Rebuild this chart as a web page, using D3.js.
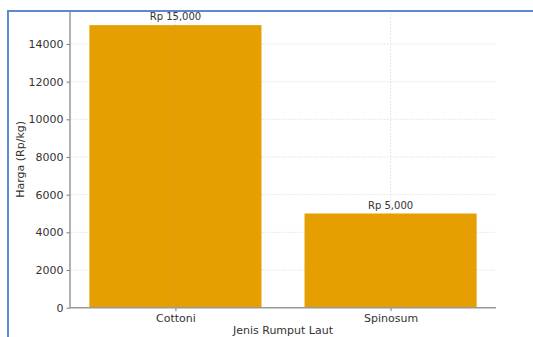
<!DOCTYPE html>
<html>
<head>
<meta charset="utf-8">
<script src="https://cdn.jsdelivr.net/npm/d3@7"></script>
<style>
  html, body { margin: 0; padding: 0; background: #fff; }
  svg { display: block; font-family: "DejaVu Sans", sans-serif; }
</style>
</head>
<body>
<svg id="chart" width="533" height="337"></svg>
<script>
// Seaweed prices per kilogram
const categories = ["Cottoni", "Spinosum"];
const prices = [15000, 5000];
const valueLabels = ["Rp 15,000", "Rp 5,000"];
const yTicks = [0, 2000, 4000, 6000, 8000, 10000, 12000, 14000];

const W = 533, H = 337;
const plot = { left: 70, right: 496, top: 11, bottom: 307.7 };
const barColor = "#E69F00";
const textColor = "#333";

const svg = d3.select("#chart");

// Linear category axis: bars centred on 0..n-1, width 0.8, 5% margins
const n = categories.length;
const xMin = -0.4, xMax = (n - 1) + 0.4;
const xPad = (xMax - xMin) * 0.05;
const x = d3.scaleLinear()
  .domain([xMin - xPad, xMax + xPad])
  .range([plot.left, plot.right]);

const yMax = d3.max(prices) * 1.05;
const y = d3.scaleLinear()
  .domain([0, yMax])
  .range([plot.bottom, plot.top]);

const g = svg.append("g");

// Grid lines (dotted)
g.append("g")
  .selectAll("line")
  .data(yTicks)
  .join("line")
  .attr("x1", plot.left).attr("x2", plot.right)
  .attr("y1", d => y(d)).attr("y2", d => y(d))
  .attr("stroke", "#dcdcdc")
  .attr("stroke-width", 0.8)
  .attr("stroke-dasharray", "1.6,1.6");

g.append("g")
  .selectAll("line")
  .data(categories)
  .join("line")
  .attr("x1", (d, i) => x(i)).attr("x2", (d, i) => x(i))
  .attr("y1", plot.top).attr("y2", plot.bottom)
  .attr("stroke", "#dcdcdc")
  .attr("stroke-width", 0.8)
  .attr("stroke-dasharray", "1.6,1.6");

// Bars
g.append("g")
  .selectAll("rect")
  .data(prices)
  .join("rect")
  .attr("x", (d, i) => x(i - 0.4))
  .attr("width", (d, i) => x(i + 0.4) - x(i - 0.4))
  .attr("y", d => y(d))
  .attr("height", d => y(0) - y(d))
  .attr("fill", barColor);

// Grid lines drawn faintly over bars as well
g.append("g")
  .selectAll("line")
  .data(categories)
  .join("line")
  .attr("x1", (d, i) => x(i)).attr("x2", (d, i) => x(i))
  .attr("y1", (d, i) => y(prices[i])).attr("y2", plot.bottom)
  .attr("stroke", "#d9a030")
  .attr("stroke-width", 0.6)
  .attr("opacity", 0.5);

// Value labels above bars
g.append("g")
  .selectAll("text")
  .data(prices)
  .join("text")
  .attr("x", (d, i) => x(i))
  .attr("y", d => y(d) - 5)
  .attr("text-anchor", "middle")
  .attr("font-size", 10)
  .attr("fill", textColor)
  .text((d, i) => valueLabels[i]);

// Y axis
const yAxis = d3.axisLeft(y).tickValues(yTicks).tickSize(3.5).tickPadding(3).tickFormat(d3.format("d"));
const yg = svg.append("g").attr("transform", `translate(${plot.left},0)`).call(yAxis);
yg.select(".domain").remove();
yg.selectAll(".tick line").attr("stroke", "#555").attr("stroke-width", 0.8);
yg.selectAll(".tick text").attr("font-size", 11).attr("fill", textColor).attr("font-family", "DejaVu Sans, sans-serif");

// X axis
const xAxis = d3.axisBottom(x).tickValues(d3.range(n)).tickSize(3.5).tickPadding(3).tickFormat(i => categories[i]);
const xg = svg.append("g").attr("transform", `translate(0,${plot.bottom})`).call(xAxis);
xg.select(".domain").remove();
xg.selectAll(".tick line").attr("stroke", "#555").attr("stroke-width", 0.8);
xg.selectAll(".tick text").attr("font-size", 11).attr("fill", textColor).attr("font-family", "DejaVu Sans, sans-serif");

// Spines: left and bottom
svg.append("line")
  .attr("x1", plot.left).attr("x2", plot.left)
  .attr("y1", plot.top).attr("y2", plot.bottom)
  .attr("stroke", "#999").attr("stroke-width", 1.5);
svg.append("line")
  .attr("x1", plot.left).attr("x2", plot.right)
  .attr("y1", plot.bottom).attr("y2", plot.bottom)
  .attr("stroke", "#999").attr("stroke-width", 1.5);

// Axis titles
svg.append("text")
  .attr("x", (plot.left + plot.right) / 2)
  .attr("y", 334)
  .attr("text-anchor", "middle")
  .attr("font-size", 11)
  .attr("fill", textColor)
  .text("Jenis Rumput Laut");

svg.append("text")
  .attr("transform", `translate(24,${(plot.top + plot.bottom) / 2}) rotate(-90)`)
  .attr("text-anchor", "middle")
  .attr("font-size", 11)
  .attr("fill", textColor)
  .text("Harga (Rp/kg)");

// Outer frame edge (left and top)
svg.append("line")
  .attr("x1", 8).attr("x2", W)
  .attr("y1", 11).attr("y2", 11)
  .attr("stroke", "#5b8ad0").attr("stroke-width", 2);
svg.append("line")
  .attr("x1", 8).attr("x2", 8)
  .attr("y1", 10).attr("y2", H)
  .attr("stroke", "#5b8ad0").attr("stroke-width", 2);
</script>
</body>
</html>
